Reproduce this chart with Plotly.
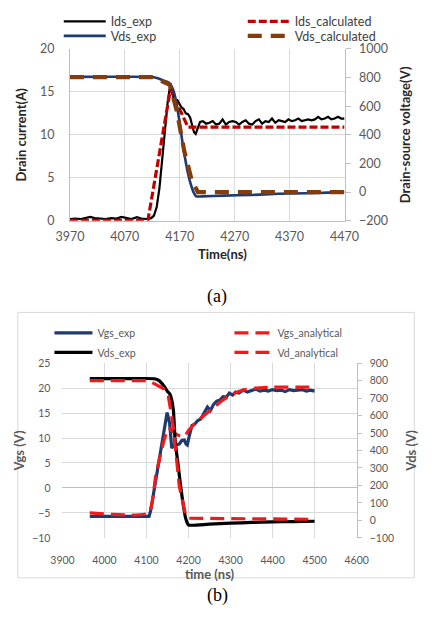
import plotly.graph_objects as go

W, H = 434, 618

# ---------------- (a) data ----------------
ids_exp_t = [3970,3980,3990,4000,4007,4015,4025,4035,4045,4055,4064,4072,4082,4092,4100,4110,
             4118,4123,4128,4133,4138,4143,4148,4153,
             4157,4161,4165,4169,4173,4177,4181,4185,4189,4193,
             4196,4199,4203,4207,4212] + list(range(4218, 4471, 6))
ids_exp = [0.2,0.25,0.2,0.3,0.45,0.3,0.25,0.2,0.3,0.25,0.45,0.3,0.2,0.4,0.25,0.2,
           0.3,0.6,1.6,3.8,7.0,10.5,13.8,16.0,
           14.6,13.6,14.1,13.7,13.2,13.0,12.5,12.4,12.0,11.0,
           10.3,10.1,10.9,11.5,11.6,
           11.3,11.4,11.6,11.2,11.3,11.8,11.2,11.5,11.6,11.5,
           11.2,11.5,11.7,11.3,11.2,11.6,11.8,11.3,11.6,11.5,
           11.9,11.4,11.7,11.6,11.5,11.8,11.6,11.7,11.9,11.6,
           11.7,11.8,11.7,11.8,12.1,11.8,11.9,12.1,11.8,11.9,
           12.1,11.9,11.9]

ids_calc_t = [3970, 4112, 4153, 4185, 4470]
ids_calc = [0.05, 0.05, 15.3, 10.9, 10.9]

vds_exp_t = [3970,4050,4120,4130,4140,4150,4155,4160,4165,4170,4175,4180,4185,4190,4195,4200,
             4210,4250,4300,4350,4400,4440,4470]
vds_exp = [805,806,804,795,780,765,740,690,600,480,345,230,130,55,0,-30,
           -30,-25,-20,-12,-8,-4,0]

vds_calc_t = [3970, 4122, 4152, 4165, 4178, 4192, 4203, 4470]
vds_calc = [803, 803, 750, 560, 290, 80, 0, 0]

# ---------------- (b) data ----------------
vgs_exp_t = [3965,4000,4050,4106,4110,4120,4130,4140,4149,
             4155,4160,4166,4172,4178,4184,4190,4194,4197,
             4202,4208,4215,4222,4229,4237,4245,4252,4260,4267,
             4275,4282,4290,4297,4305,4312,4320] + list(range(4330, 4501, 10))
vgs_exp = [-5.7,-5.7,-5.7,-5.7,-4.5,0.5,5.5,10.5,15.1,
           13.0,8.0,8.6,8.7,8.8,9.5,9.6,8.8,8.6,
           10.5,12.5,12.8,13.5,13.8,14.9,16.2,15.5,16.8,17.4,
           17.6,18.3,18.2,19.0,18.6,19.2,19.0,
           19.6,19.2,19.5,19.8,19.4,19.6,19.4,19.7,19.5,19.6,19.3,19.7,19.5,19.6,19.7,19.4,19.6,19.4]

vgs_an_t = [3965,4105,4122,4140,4152,4160,4170,4180,4190,4200,4215,4235,4255,4280,4305,4330,4360,4400,4500]
vgs_an = [-5.0,-5.0,2.5,9.0,12.0,11.5,10.8,10.4,10.3,11.5,12.9,14.4,15.8,17.5,18.8,19.6,20.0,20.2,20.2]

vdsb_exp_t = [3965,4050,4119,4130,4141,4150,4155,4159,4164,4168,4175,4182,4188,4193,4197,4200,
              4210,4250,4300,4350,4400,4450,4500]
vdsb_exp = [811,811,811,800,771,738,725,700,630,460,320,181,80,13,-15,-27,
            -28,-22,-16,-12,-9,-7,-5]

vd_an_t = [3965, 4105, 4140, 4152, 4163, 4178, 4193, 4200, 4500]
vd_an = [800, 800, 755, 710, 548, 196, 30, 12, 6]

# ---------------- styling ----------------
FONT = "Lato"
GRID = "#D9D9D9"
AXL = "#BFBFBF"
TICK = "#595959"
NAVY = "#1F3A6E"
RED_A = "#C00000"
BROWN = "#843C0C"
RED_B = "#F01A1A"

fig = go.Figure()

# (a)
fig.add_trace(go.Scatter(x=ids_exp_t, y=ids_exp, name="Ids_exp", mode="lines",
                         line=dict(color="black", width=2.2), xaxis="x", yaxis="y", legend="legend"))
fig.add_trace(go.Scatter(x=ids_calc_t, y=ids_calc, name="Ids_calculated", mode="lines",
                         line=dict(color=RED_A, width=3.2, dash="8px,3px"), xaxis="x", yaxis="y", legend="legend"))
fig.add_trace(go.Scatter(x=vds_exp_t, y=vds_exp, name="Vds_exp", mode="lines", line_shape="spline",
                         line=dict(color=NAVY, width=2.6, smoothing=0.6), xaxis="x", yaxis="y2", legend="legend2"))
fig.add_trace(go.Scatter(x=vds_calc_t, y=vds_calc, name="Vds_calculated", mode="lines",
                         line=dict(color=BROWN, width=4.2, dash="14px,9px"), xaxis="x", yaxis="y2", legend="legend2"))

# (b)
fig.add_trace(go.Scatter(x=vgs_exp_t, y=vgs_exp, name="Vgs_exp", mode="lines",
                         line=dict(color=NAVY, width=3.2), xaxis="x2", yaxis="y3", legend="legend3"))
fig.add_trace(go.Scatter(x=vgs_an_t, y=vgs_an, name="Vgs_analytical", mode="lines", line_shape="spline",
                         line=dict(color=RED_B, width=3.2, dash="14px,7px", smoothing=0.5), xaxis="x2", yaxis="y3", legend="legend3"))
fig.add_trace(go.Scatter(x=vdsb_exp_t, y=vdsb_exp, name="Vds_exp", mode="lines", line_shape="spline",
                         line=dict(color="black", width=3.2, smoothing=0.5), xaxis="x2", yaxis="y4", legend="legend4"))
fig.add_trace(go.Scatter(x=vd_an_t, y=vd_an, name="Vd_analytical", mode="lines",
                         line=dict(color=RED_B, width=3.2, dash="14px,7px"), xaxis="x2", yaxis="y4", legend="legend4"))

def px_x(p):
    return p / W

def px_y(p):
    return 1 - p / H

tickfont_a = dict(family=FONT, size=12.5, color=TICK)
tickfont_b = dict(family=FONT, size=10.5, color=TICK)
title_a = dict(family=FONT, size=13, color="#262626", weight="bold")
title_b = dict(family=FONT, size=13, color=TICK, weight="bold")

def legend(xpx, ypx, fsize, itemw, entryw, color):
    return dict(orientation="h", x=px_x(xpx), xanchor="left", y=px_y(ypx), yanchor="middle",
                font=dict(family=FONT, size=fsize, color=color), itemwidth=itemw,
                entrywidth=entryw, entrywidthmode="pixels", bgcolor="rgba(0,0,0,0)",
                traceorder="normal", itemclick=False)

fig.update_layout(
    width=W, height=H, margin=dict(l=0, r=0, t=0, b=0),
    paper_bgcolor="white", plot_bgcolor="white",
    font=dict(family=FONT, color=TICK),
    legend=legend(47, 14, 12.5, 42, 127, "#404040"),
    legend2=legend(47, 29, 12.5, 42, 127, "#404040"),
    legend3=legend(37, 333, 10.5, 38, 127, "#595959"),
    legend4=legend(37, 353, 10.5, 38, 127, "#595959"),
    xaxis=dict(domain=[px_x(59), px_x(354)], range=[3970, 4470], tick0=3970, dtick=100,
               anchor="y", showgrid=True, gridcolor=GRID, zeroline=False,
               showline=True, linecolor=AXL, ticks="", tickfont=tickfont_a, ticklabelstandoff=4),
    yaxis=dict(domain=[px_y(218), px_y(42)], range=[0, 20], dtick=5, anchor="x",
               showgrid=True, gridcolor=GRID, zeroline=False, showline=True, linecolor=AXL,
               ticks="", tickfont=tickfont_a, ticklabelstandoff=12,
               title=dict(text="Drain current(A)", font=title_a, standoff=10)),
    yaxis2=dict(overlaying="y", side="right", anchor="x", range=[-200, 1000], dtick=200,
                showgrid=False, zeroline=False, showline=True, linecolor=AXL,
                ticks="outside", ticklen=5, tickcolor=AXL, tickfont=tickfont_a, ticklabelstandoff=6,
                title=dict(text="Drain-source voltage(V)", font=title_a, standoff=13)),
    xaxis2=dict(domain=[px_x(51), px_x(367)], range=[3900, 4600], dtick=100, anchor="y3",
                showgrid=True, gridcolor=GRID, zeroline=False, ticks="", tickfont=tickfont_b,
                ticklabelstandoff=15,
                title=dict(text="time (ns)", font=title_b, standoff=3)),
    yaxis3=dict(domain=[px_y(543), px_y(364)], range=[-10, 25], dtick=5, anchor="x2",
                showgrid=True, gridcolor=GRID, zeroline=True, zerolinecolor=AXL, zerolinewidth=1,
                ticks="", tickfont=tickfont_b, ticklabelstandoff=11,
                title=dict(text="Vgs (V)", font=title_b, standoff=4)),
    yaxis4=dict(overlaying="y3", side="right", anchor="x2", range=[-100, 900], dtick=100,
                showgrid=False, zeroline=False, showline=True, linecolor=AXL,
                ticks="outside", ticklen=4, tickcolor=AXL, tickfont=tickfont_b, ticklabelstandoff=6,
                title=dict(text="Vds (V)", font=title_b, standoff=13)),
    shapes=[dict(type="rect", xref="paper", yref="paper", x0=px_x(3), x1=px_x(429),
                 y0=px_y(584), y1=px_y(312), line=dict(color="#D9D9D9", width=1), layer="below")],
    annotations=[
        dict(text="Time(ns)", x=px_x(223), y=px_y(252), xref="paper", yref="paper", showarrow=False,
             font=title_a, xanchor="center", yanchor="middle"),
        dict(text="(a)", x=px_x(217), y=px_y(296), xref="paper", yref="paper", showarrow=False,
             font=dict(family="Liberation Serif", size=18, color="black"), xanchor="center", yanchor="middle"),
        dict(text="(b)", x=px_x(217), y=px_y(602), xref="paper", yref="paper", showarrow=False,
             font=dict(family="Liberation Serif", size=18, color="black"), xanchor="center", yanchor="middle"),
    ],
)

fig.write_html("out.html")
